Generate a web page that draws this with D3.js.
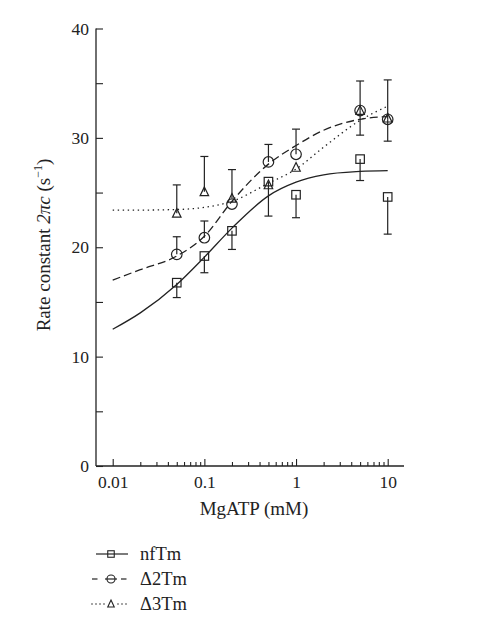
<!DOCTYPE html>
<html>
<head>
<meta charset="utf-8">
<script src="https://cdn.jsdelivr.net/npm/d3@7"></script>
<style>
  html, body { margin: 0; padding: 0; background: #fff; }
  svg { display: block; }
  text { font-family: "Liberation Serif", "DejaVu Serif", serif; fill: #222; }
</style>
</head>
<body>
<svg id="chart" width="486" height="619"></svg>
<script>
// ---------- data ----------
const mgatp = [0.05, 0.1, 0.2, 0.5, 1, 5, 10];

const nfTm        = [16.76, 19.2, 21.5, 26.0, 24.8, 28.06, 24.6];
const nfTmLow     = [15.4, 17.67, 19.8, 22.85, 22.7, 26.1, 21.2];
const nfTmHigh    = [null, null, null, null, null, null, null];

const d2Tm        = [19.35, 20.87, 23.95, 27.8, 28.5, 32.5, 31.7];
const d2TmLow     = [null, null, null, null, null, 30.25, 29.7];
const d2TmHigh    = [20.96, 22.4, null, 29.4, 30.8, 35.2, 35.3];

const d3Tm        = [23.1, 25.07, 24.47, 25.7, 27.3, 32.5, 31.8];
const d3TmLow     = [null, null, null, null, null, null, null];
const d3TmHigh    = [25.7, 28.3, 27.1, null, null, null, null];

// fitted curves
const fitX        = [0.01, 0.02, 0.05, 0.1, 0.2, 0.5, 1, 2, 5, 10];
const nfTmFit     = [12.5, 14.0, 16.6, 19.1, 21.75, 24.7, 25.95, 26.62, 26.93, 27.0];
const d2TmFit     = [17.0, 17.95, 19.2, 21.0, 24.2, 27.6, 29.3, 30.7, 31.7, 31.95];
const d3TmFit     = [23.4, 23.4, 23.45, 23.65, 24.2, 25.85, 27.15, 29.15, 31.6, 32.9];

const seriesNames = ["nfTm", "\u03942Tm", "\u03943Tm"];
const xMajorTicks = [0.01, 0.1, 1, 10];
const xTickLabels = ["0.01", "0.1", "1", "10"];
const yMajorTicks = [0, 10, 20, 30, 40];
const yMinorTicks = [5, 15, 25, 35];
const xTitle = "MgATP (mM)";

// ---------- layout ----------
const svg = d3.select("#chart");
const ink = "#222";
const FONT = "'Liberation Serif', 'DejaVu Serif', serif";
const x = d3.scaleLog().domain([0.01, 10]).range([112.7, 387.7]);
const y = d3.scaleLinear().domain([0, 40]).range([466, 28.5]);
const axisLeftX = 96, axisRightX = 404;

const series = [
  { name: seriesNames[0], vals: nfTm, low: nfTmLow, high: nfTmHigh, fit: nfTmFit, dash: null, shape: "square" },
  { name: seriesNames[1], vals: d2Tm, low: d2TmLow, high: d2TmHigh, fit: d2TmFit, dash: "8,4", shape: "circle" },
  { name: seriesNames[2], vals: d3Tm, low: d3TmLow, high: d3TmHigh, fit: d3TmFit, dash: "1.4,3.6", shape: "triangle" }
];

// ---------- axes ----------
const gx = svg.append("g").attr("transform", `translate(0,${y(0)})`);
gx.call(d3.axisBottom(x).tickValues(xMajorTicks).tickSize(-7).tickPadding(10)
  .tickFormat((d, i) => xTickLabels[i]));
const minorX = [];
[0.01, 0.1, 1].forEach(dec => { for (let k = 2; k <= 9; k++) minorX.push(+(dec * k).toPrecision(3)); });
const gxm = svg.append("g").attr("transform", `translate(0,${y(0)})`);
gxm.call(d3.axisBottom(x).tickValues(minorX).tickSize(-4).tickFormat(""));
gxm.select(".domain").remove();
gx.select(".domain").remove();
svg.append("line").attr("x1", axisLeftX).attr("x2", axisRightX).attr("y1", y(0)).attr("y2", y(0))
  .attr("stroke", ink).attr("stroke-width", 1.3);

const gy = svg.append("g").attr("transform", `translate(${axisLeftX},0)`);
gy.call(d3.axisLeft(y).tickValues(yMajorTicks).tickSize(-7).tickPadding(7).tickFormat(d3.format("d")));
const gym = svg.append("g").attr("transform", `translate(${axisLeftX},0)`);
gym.call(d3.axisLeft(y).tickValues(yMinorTicks).tickSize(-7).tickFormat(""));
gy.select(".domain").remove();
gym.select(".domain").remove();
svg.append("line").attr("x1", axisLeftX).attr("x2", axisLeftX).attr("y1", y(0)).attr("y2", y(40))
  .attr("stroke", ink).attr("stroke-width", 1.3);

svg.selectAll("g").attr("font-family", FONT);
svg.selectAll(".tick line").attr("stroke", ink).attr("stroke-width", 1.1);
svg.selectAll(".tick text").attr("font-size", 17.5).attr("fill", ink).attr("font-family", FONT);

// axis titles
svg.append("text").attr("x", 254).attr("y", 515).attr("text-anchor", "middle")
  .attr("font-family", FONT).attr("font-size", 19).text(xTitle);

const yt = svg.append("text").attr("transform", "translate(50,245) rotate(-90)")
  .attr("text-anchor", "middle").attr("font-family", FONT).attr("font-size", 19);
yt.append("tspan").text("Rate constant ");
yt.append("tspan").attr("font-style", "italic").text("2\u03c0c");
yt.append("tspan").text(" (s");
yt.append("tspan").attr("font-size", 12).attr("dy", -8).text("\u22121");
yt.append("tspan").attr("dy", 8).text(")");

// ---------- curves ----------
const line = d3.line().x(d => x(d[0])).y(d => y(d[1])).curve(d3.curveMonotoneX);
series.forEach(s => {
  svg.append("path").datum(fitX.map((v, i) => [v, s.fit[i]]))
    .attr("d", line).attr("fill", "none").attr("stroke", ink).attr("stroke-width", 1.3)
    .attr("stroke-dasharray", s.dash);
});

// ---------- error bars ----------
const cap = 4;
series.forEach(s => {
  mgatp.forEach((m, i) => {
    [s.low[i], s.high[i]].forEach(e => {
      if (e === null) return;
      const cx = x(m);
      svg.append("line").attr("x1", cx).attr("x2", cx).attr("y1", y(s.vals[i])).attr("y2", y(e))
        .attr("stroke", ink).attr("stroke-width", 1.2);
      svg.append("line").attr("x1", cx - cap).attr("x2", cx + cap).attr("y1", y(e)).attr("y2", y(e))
        .attr("stroke", ink).attr("stroke-width", 1.2);
    });
  });
});

// ---------- markers ----------
function marker(g, shape, cx, cy, size) {
  if (shape === "square") {
    g.append("rect").attr("x", cx - size / 2).attr("y", cy - size / 2)
      .attr("width", size).attr("height", size);
  } else if (shape === "circle") {
    g.append("circle").attr("cx", cx).attr("cy", cy).attr("r", size * 0.62);
  } else {
    const h = size * 0.9, w = size * 0.5;
    g.append("path").attr("d", `M${cx},${cy - h / 2 - 1}L${cx + w},${cy + h / 2}L${cx - w},${cy + h / 2}Z`);
  }
}
series.forEach(s => {
  const g = svg.append("g").attr("fill", "none").attr("stroke", ink).attr("stroke-width", 1.2);
  mgatp.forEach((m, i) => marker(g, s.shape, x(m), y(s.vals[i]), 8.5));
});

// ---------- legend ----------
const legY = [554, 579, 604];
series.forEach((s, i) => {
  const ly = legY[i];
  const g = svg.append("g");
  if (s.shape === "square") {
    g.append("line").attr("x1", 96).attr("x2", 128).attr("y1", ly).attr("y2", ly)
      .attr("stroke", ink).attr("stroke-width", 1.2);
  } else if (s.shape === "circle") {
    [[92, 97.5], [105, 117], [121, 126.5]].forEach(p =>
      g.append("line").attr("x1", p[0]).attr("x2", p[1]).attr("y1", ly).attr("y2", ly)
        .attr("stroke", ink).attr("stroke-width", 1.2));
  } else {
    [92, 96, 100, 104, 118, 122, 126].forEach(px =>
      g.append("circle").attr("cx", px).attr("cy", ly).attr("r", 0.75).attr("fill", ink));
  }
  const mg = g.append("g").attr("fill", "none").attr("stroke", ink).attr("stroke-width", 1.1);
  marker(mg, s.shape, 111, ly, 6.5);
  g.append("text").attr("x", 140).attr("y", ly + 6).attr("font-family", FONT)
    .attr("font-size", 18.5).text(s.name);
});
</script>
</body>
</html>
